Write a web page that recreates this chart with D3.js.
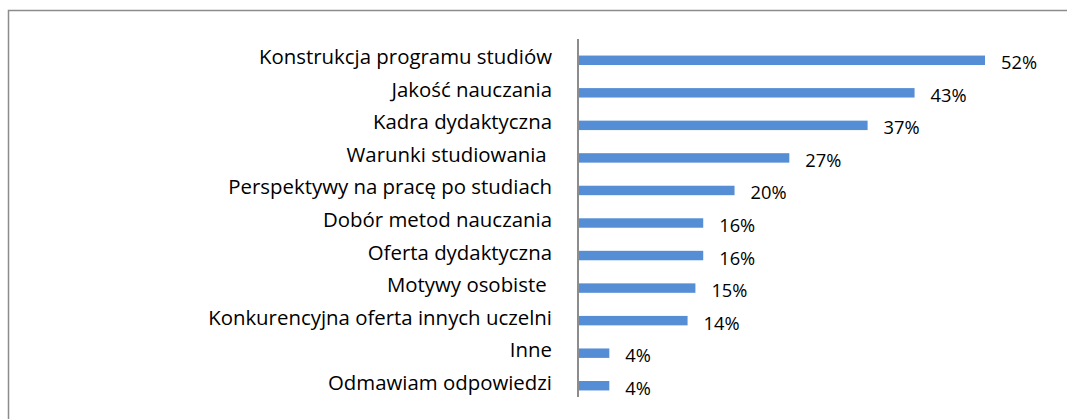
<!DOCTYPE html>
<html>
<head>
<meta charset="utf-8">
<script src="https://cdn.jsdelivr.net/npm/d3@7"></script>
<style>
  body { margin: 0; background: #fff; }
  text { font-family: "Open Sans", sans-serif; fill: #000; }
</style>
</head>
<body>
<div class="chart"></div>
<script>
var categories = [
    "Konstrukcja programu studiów",
    "Jakość nauczania",
    "Kadra dydaktyczna",
    "Warunki studiowania ",
    "Perspektywy na pracę po studiach",
    "Dobór metod nauczania",
    "Oferta dydaktyczna",
    "Motywy osobiste ",
    "Konkurencyjna oferta innych uczelni",
    "Inne",
    "Odmawiam odpowiedzi"
];
var values = [52, 43, 37, 27, 20, 16, 16, 15, 14, 4, 4];

createChart();

function createChart(){
    var svgWidth = 1067;
    var svgHeight = 419;

    var margin = {
        top: 44,
        right: 82,
        bottom: 17,
        left: 578
    }

    var width = svgWidth - margin.left - margin.right;
    var height = svgHeight - margin.top - margin.bottom;

    var svg = d3.select(".chart")
        .append("svg")
        .attr("width", svgWidth).attr("height", svgHeight)

    // outer frame (only top and left edges are visible)
    svg.append("rect")
        .attr("x", 8.5).attr("y", 10.5)
        .attr("width", 1200).attr("height", 600)
        .attr("fill", "none")
        .attr("stroke", "#8c8c8c")
        .attr("stroke-width", 1.5)

    var chartGroup = svg.append("g")
        .attr("transform", `translate(${margin.left}, ${margin.top})`);

    var xLinearScale = d3.scaleLinear()
        .domain([0, 52]).range([0, 407])

    var yBandScale = d3.scaleBand()
        .domain(categories).range([0, height])
        .paddingInner(0.71).paddingOuter(0.355)

    chartGroup.selectAll("rect.bar")
        .data(values)
        .enter()
        .append("rect")
        .attr("class", "bar")
        .attr("x", 0)
        .attr("y", (d, i) => yBandScale(categories[i]))
        .attr("width", d => xLinearScale(d))
        .attr("height", yBandScale.bandwidth())
        .attr("fill", "#558ed5")

    chartGroup.selectAll("text.value")
        .data(values)
        .enter()
        .append("text")
        .attr("class", "value")
        .attr("x", d => xLinearScale(d) + 16)
        .attr("y", (d, i) => yBandScale(categories[i]) + yBandScale.bandwidth() / 2 + 9)
        .style("font-size", "18.3px")
        .text(d => d + "%")

    chartGroup.selectAll("text.cat")
        .data(categories)
        .enter()
        .append("text")
        .attr("class", "cat")
        .attr("x", -26)
        .attr("y", d => yBandScale(d) + yBandScale.bandwidth() / 2 + 4)
        .attr("text-anchor", "end")
        .style("font-size", "20.4px")
        .style("white-space", "pre")
        .text(d => d)

    // vertical axis line
    chartGroup.append("line")
        .attr("x1", 0).attr("x2", 0)
        .attr("y1", -5).attr("y2", height - 5)
        .attr("stroke", "#8c8c8c")
        .attr("stroke-width", 2)
}
</script>
</body>
</html>
